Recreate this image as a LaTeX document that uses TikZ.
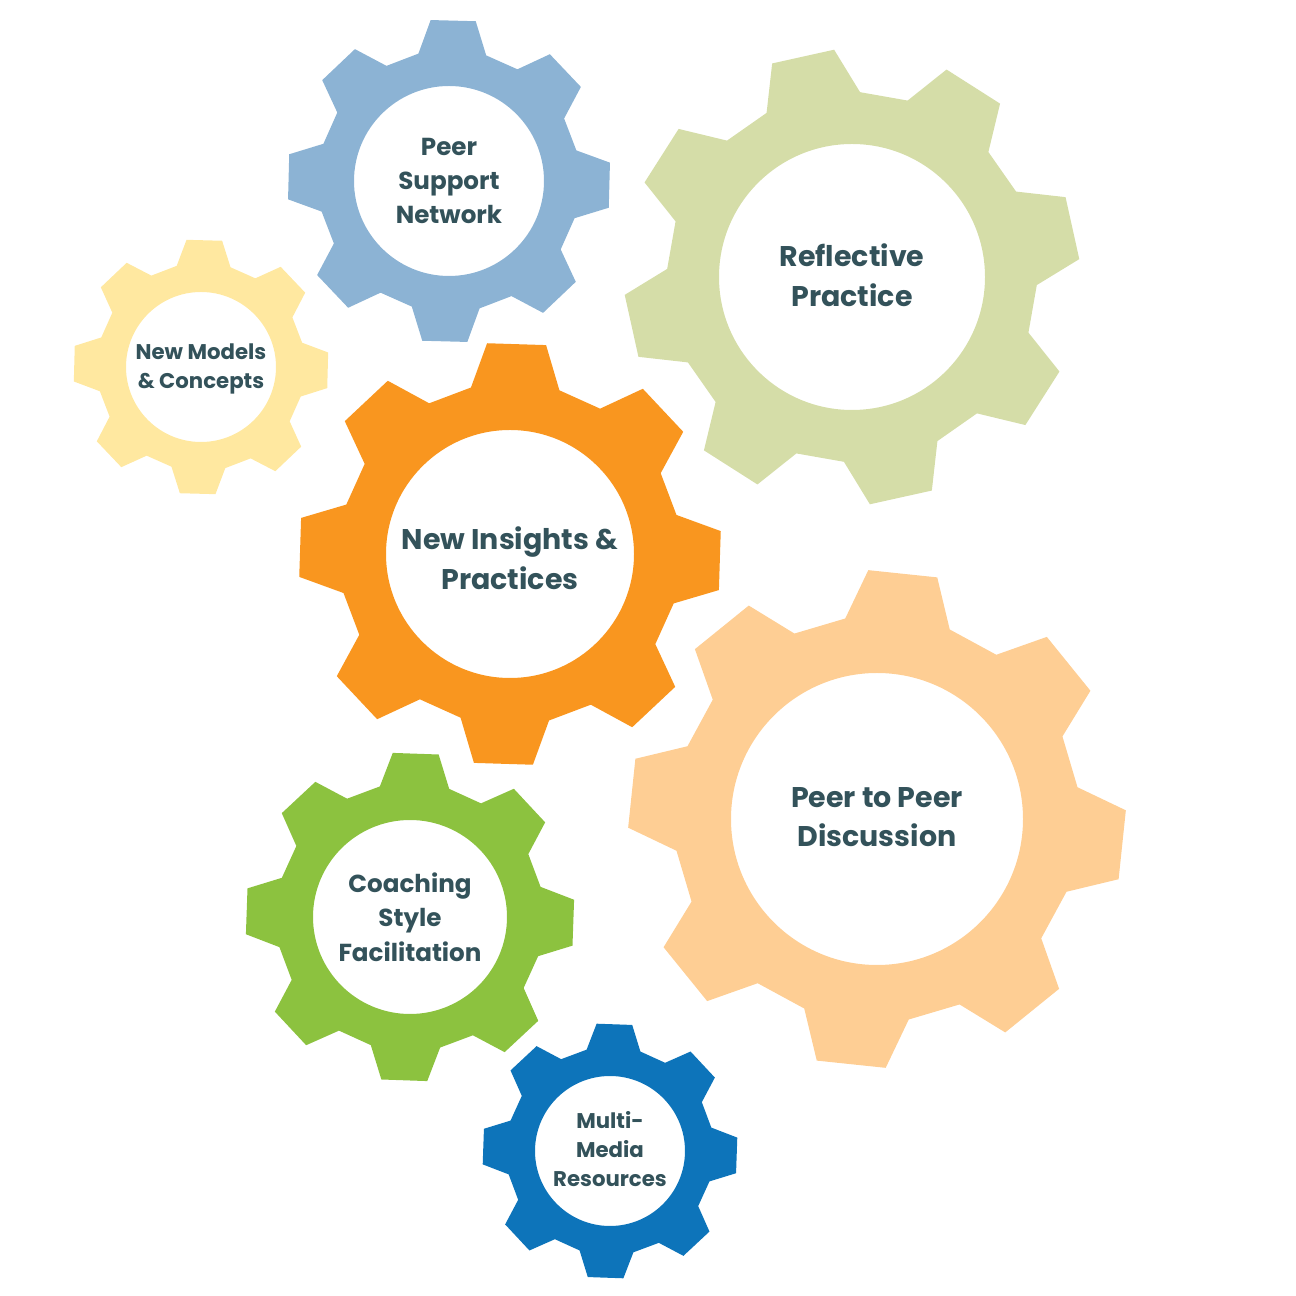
\documentclass[tikz,border=0pt]{standalone}
\usepackage{fontspec}
\setmainfont{Poppins}
\definecolor{gearblue}{HTML}{8CB3D4}
\definecolor{gearsage}{HTML}{D5DDA8}
\definecolor{gearyellow}{HTML}{FFE8A0}
\definecolor{gearorange}{HTML}{F9961F}
\definecolor{gearpeach}{HTML}{FECE94}
\definecolor{geargreen}{HTML}{8CC23F}
\definecolor{geardeep}{HTML}{0D74BA}
\definecolor{geartext}{HTML}{33525A}
\tikzset{
    gearlabel/.style = {align = center, text = geartext, inner sep = 0pt},
}
% x y outer root hole rotation colour
\newcommand{\drawgear}[7]{
    \fill[#7, even odd rule] ({#1 + #4*cos(#6 - 15)}, {#2 + #4*sin(#6 - 15)})
        \foreach \i in {0, ..., 7} {
            -- ({#1 + #3*cos(#6 + \i*45 - 8)}, {#2 + #3*sin(#6 + \i*45 - 8)})
            -- ({#1 + #3*cos(#6 + \i*45 + 8)}, {#2 + #3*sin(#6 + \i*45 + 8)})
            -- ({#1 + #4*cos(#6 + \i*45 + 15)}, {#2 + #4*sin(#6 + \i*45 + 15)})
            -- ({#1 + #4*cos(#6 + \i*45 + 30)}, {#2 + #4*sin(#6 + \i*45 + 30)})
        } -- cycle
        (#1, #2) circle (#5);
}
\begin{document}
\begin{tikzpicture}[x = 0.02cm, y = 0.02cm]
    \useasboundingbox (0, 0) rectangle (1296, 1296);
    \drawgear{449}{1115}{162}{131}{95}{88.5}{gearblue}
    \drawgear{852}{1019}{228}{185}{133}{102.5}{gearsage}
    \drawgear{201}{929}{128}{104}{75}{88.5}{gearyellow}
    \drawgear{510}{742}{212}{171}{124}{88.2}{gearorange}
    \drawgear{877}{477}{249}{203}{146}{84}{gearpeach}
    \drawgear{410}{379}{165}{134}{97}{88}{geargreen}
    \drawgear{610}{145}{128}{104}{75}{88}{geardeep}
    \node[gearlabel, font = \bfseries\fontsize{14}{19.5}\selectfont] (support) at (449, 1115) {Peer\\Support\\Network};
    \node[gearlabel, font = \bfseries\fontsize{16.2}{22.5}\selectfont] (reflective) at (852, 1021) {Reflective\\Practice};
    \node[gearlabel, font = \bfseries\fontsize{12.1}{16.5}\selectfont] (models) at (201, 927) {New Models\\\& Concepts};
    \node[gearlabel, font = \bfseries\fontsize{16.2}{22.5}\selectfont] (insights) at (510, 738) {New Insights \&\\Practices};
    \node[gearlabel, font = \bfseries\fontsize{16.2}{22.5}\selectfont] (discussion) at (877, 479) {Peer to Peer\\Discussion};
    \node[gearlabel, font = \bfseries\fontsize{14}{19.5}\selectfont] (coaching) at (410, 379) {Coaching\\Style\\Facilitation};
    \node[gearlabel, font = \bfseries\fontsize{12.1}{16.5}\selectfont] (multimedia) at (610, 147) {Multi-\\Media\\Resources};
\end{tikzpicture}
\end{document}
